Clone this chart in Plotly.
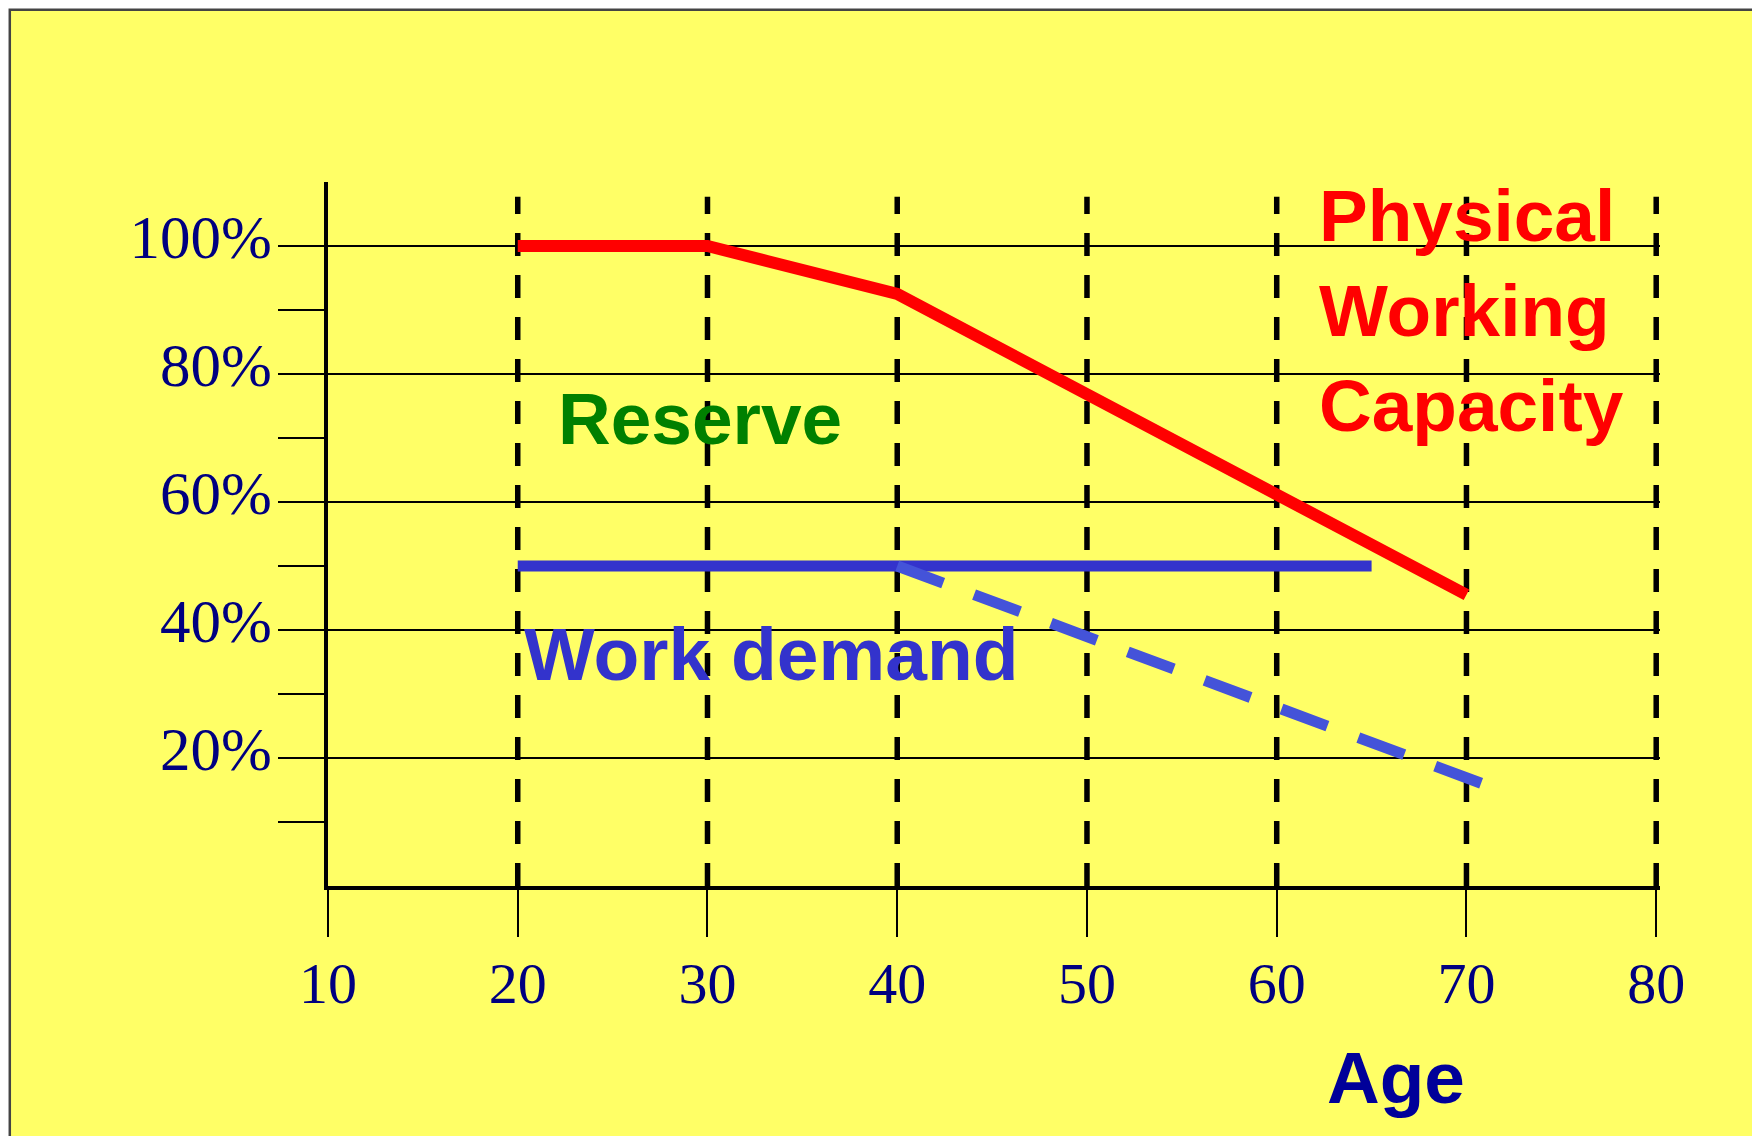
import plotly.graph_objects as go

# ages on the x axis and the percent ticks
AGE_TICKS = [10, 20, 30, 40, 50, 60, 70, 80]
GUIDE_AGES = [20, 30, 40, 50, 60, 70, 80]
PCT_MAJOR = [20, 40, 60, 80, 100]
PCT_MINOR = [10, 30, 50, 70, 90]
PCT_LABELS = ["20%", "40%", "60%", "80%", "100%"]

# physical working capacity
CAPACITY_AGE = [20, 30, 40, 50, 60, 70]
CAPACITY = [100, 100, 92.5, 77, 61, 45.5]

# work demand (solid) and reduced demand (dashed)
DEMAND_AGE = [20, 65]
DEMAND = [50, 50]
REDUCED_AGE = [40, 71]
REDUCED = [50, 15.8]

YELLOW = "#FFFF66"
NAVY = "#000080"
SANS = "Liberation Sans, Arial, sans-serif"
SERIF = "Liberation Serif, Times New Roman, serif"

fig = go.Figure()

fig.add_trace(go.Scatter(x=CAPACITY_AGE, y=CAPACITY, mode="lines",
                         line=dict(color="#FF0000", width=12),
                         name="Physical Working Capacity"))
fig.add_trace(go.Scatter(x=DEMAND_AGE, y=DEMAND, mode="lines",
                         line=dict(color="#3333CC", width=11),
                         name="Work demand"))
fig.add_trace(go.Scatter(x=REDUCED_AGE, y=REDUCED, mode="lines",
                         line=dict(color="#4453D9", width=11, dash="49px,33px"),
                         name="Reduced demand"))

# yellow card with a thin dark border (runs off the bottom of the page)
fig.add_shape(type="rect", xref="paper", yref="paper",
              x0=-0.2389, x1=1.0704, y0=-0.4, y1=1.2448,
              fillcolor=YELLOW, line=dict(color="#444444", width=2.5),
              layer="below")

# dashed vertical guides
for a in GUIDE_AGES:
    fig.add_shape(type="line", xref="x", yref="y", x0=a, x1=a, y0=0, y1=107.7,
                  line=dict(color="black", width=5.5, dash="23px,19px"),
                  layer="below")

fig.add_annotation(x=29.6, y=73, text="<b>Reserve</b>", showarrow=False,
                   font=dict(family=SANS, size=73, color="#008000"))
fig.add_annotation(x=20.2, y=36.2, text="<b>Work demand</b>", showarrow=False,
                   xanchor="left", font=dict(family=SANS, size=75, color="#3333CC"))
fig.add_annotation(x=62.12, y=90, text="<b>Physical<br>Working<br>Capacity</b>",
                   showarrow=False, xanchor="left", align="left",
                   font=dict(family=SANS, size=73, color="#FF0000"))
fig.add_annotation(x=66.3, xref="x", y=-0.2727, yref="paper", yanchor="middle",
                   text="<b>Age</b>", showarrow=False,
                   font=dict(family=SANS, size=73, color="#000099"))

fig.update_layout(
    width=1760, height=1136,
    margin=dict(l=320, r=108, t=174, b=258),
    paper_bgcolor="white",
    plot_bgcolor="rgba(0,0,0,0)",
    showlegend=False,
    xaxis=dict(range=[10, 80.2], tickvals=AGE_TICKS, ticks="outside",
               ticklen=47, tickwidth=2, tickcolor="black",
               showline=True, linewidth=4, linecolor="black",
               showgrid=False, zeroline=False, ticklabelstandoff=-4,
               tickfont=dict(family=SERIF, size=58, color=NAVY)),
    yaxis=dict(range=[0, 110], tickvals=PCT_MAJOR, ticktext=PCT_LABELS,
               ticks="outside", ticklen=46, tickwidth=2, tickcolor="black",
               showline=True, linewidth=4, linecolor="black",
               showgrid=True, gridcolor="black", gridwidth=2, zeroline=False,
               ticklabelshift=-9, ticklabelstandoff=-6,
               tickfont=dict(family=SERIF, size=61, color=NAVY),
               minor=dict(tickvals=PCT_MINOR, ticks="outside", ticklen=46,
                          tickwidth=2, tickcolor="black", showgrid=False)),
)

fig.write_html("out.html")
